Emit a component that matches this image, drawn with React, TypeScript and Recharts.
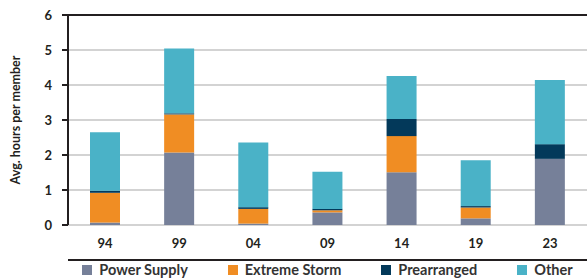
import React from 'react';
import {
  BarChart,
  Bar,
  CartesianGrid,
  XAxis,
  YAxis,
  ReferenceLine,
  Legend,
} from 'recharts';

const years = ['94', '99', '04', '09', '14', '19', '23'];
const powerSupply = [0.07, 2.07, 0.04, 0.36, 1.51, 0.19, 1.89];
const extremeStorm = [0.85, 1.09, 0.42, 0.06, 1.03, 0.31, 0.0];
const prearranged = [0.06, 0.03, 0.05, 0.04, 0.49, 0.04, 0.42];
const other = [1.67, 1.85, 1.85, 1.06, 1.23, 1.31, 1.83];
const yTicks = [0, 1, 2, 3, 4, 5, 6];
const boundaryTicks = [0, 1, 2, 3, 4, 5, 6, 7];

const series = [
  { key: 'powerSupply', name: 'Power Supply', color: '#768099' },
  { key: 'extremeStorm', name: 'Extreme Storm', color: '#f08d23' },
  { key: 'prearranged', name: 'Prearranged', color: '#03395a' },
  { key: 'other', name: 'Other', color: '#4ab2c7' },
];

const data = years.map((year, i) => ({
  year,
  powerSupply: powerSupply[i],
  extremeStorm: extremeStorm[i],
  prearranged: prearranged[i],
  other: other[i],
}));

const FONT = 'Lato, "Open Sans", sans-serif';
const AXIS = '#231f20';

const renderLegend = () => (
  <div
    style={{
      display: 'flex',
      justifyContent: 'center',
      gap: 40,
      height: 18,
      lineHeight: '18px',
      fontFamily: FONT,
      fontWeight: 700,
      fontSize: 14.5,
      color: '#333',
    }}
  >
    {series.map((s) => (
      <div key={s.key} style={{ display: 'flex', alignItems: 'center' }}>
        <span style={{ width: 10, height: 10, background: s.color, marginRight: 7, display: 'inline-block' }} />
        {s.name}
      </div>
    ))}
  </div>
);

export default function App() {
  return (
    <div style={{ position: 'absolute', left: 0, top: 0, width: 587, height: 279, background: '#fff' }}>
      <BarChart
        width={587}
        height={279}
        data={data}
        margin={{ top: 15, right: 0, left: 0, bottom: 0 }}
      >
        <CartesianGrid xAxisId="cat" vertical={false} stroke="#d3d3d3" strokeWidth={2} />
        <XAxis
          xAxisId="edge"
          type="number"
          domain={[0, 7]}
          ticks={boundaryTicks}
          tick={false}
          tickSize={6}
          height={1}
          axisLine={{ stroke: AXIS, strokeWidth: 2 }}
          tickLine={{ stroke: AXIS, strokeWidth: 2 }}
          allowDataOverflow
        />
        <XAxis
          xAxisId="cat"
          dataKey="year"
          axisLine={false}
          tickLine={false}
          tickSize={0}
          tickMargin={14}
          height={35}
          tick={{ fill: AXIS, fontFamily: FONT, fontWeight: 700, fontSize: 13 }}
        />
        <YAxis
          domain={[0, 6]}
          ticks={yTicks}
          width={68}
          tickSize={6}
          tickMargin={10}
          axisLine={{ stroke: AXIS, strokeWidth: 2 }}
          tickLine={{ stroke: AXIS, strokeWidth: 2 }}
          tick={{ fill: AXIS, fontFamily: FONT, fontWeight: 700, fontSize: 13 }}
          label={{
            value: 'Avg. hours per member',
            angle: -90,
            position: 'insideLeft',
            offset: 16,
            style: { textAnchor: 'middle', fill: AXIS, fontFamily: FONT, fontWeight: 700, fontSize: 12.5 },
          }}
        />
        <ReferenceLine xAxisId="cat" y={6} stroke={AXIS} strokeWidth={2} />
        {series.map((s) => (
          <Bar
            key={s.key}
            xAxisId="cat"
            dataKey={s.key}
            name={s.name}
            stackId="a"
            fill={s.color}
            barSize={30}
            isAnimationActive={false}
          />
        ))}
        <Legend content={renderLegend} verticalAlign="bottom" wrapperStyle={{ left: 68, width: 519, bottom: 0 }} />
      </BarChart>
    </div>
  );
}
